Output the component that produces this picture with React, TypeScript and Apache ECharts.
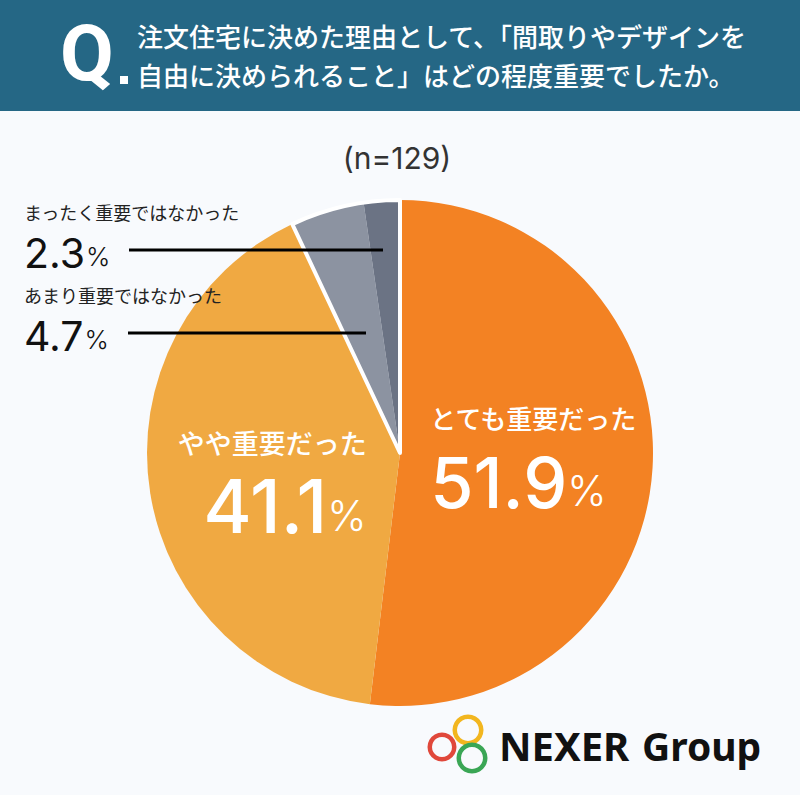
import React, { useEffect, useRef } from "react";
import * as echarts from "echarts";

const categories = ["とても重要だった", "やや重要だった", "あまり重要ではなかった", "まったく重要ではなかった"];
const values = [51.9, 41.1, 4.7, 2.3];
const colors = ["#F38223", "#F0A942", "#8C93A1", "#6B7384"];
const sampleSize = 129;
const titleLines = [
  "注文住宅に決めた理由として、「間取りやデザインを",
  "自由に決められること」はどの程度重要でしたか。",
];

const JP = '"Noto Sans CJK JP", "Noto Sans", sans-serif';
const NUM = 'Inter, "Noto Sans", sans-serif';

export default function App() {
  const ref = useRef<HTMLDivElement>(null);

  useEffect(() => {
    if (!ref.current) return;
    const chart = echarts.init(ref.current, undefined, { renderer: "svg" });

    const greySum = values[2] + values[3];
    const warmSum = values[0] + values[1];

    // label placement per slice (positions only)
    const layouts: any[] = [
      { dx: 5, dy: -2 },
      { dx: 0, dy: 10 },
      { x: 24, y: 280, align: "left", verticalAlign: "top" },
      { x: 24, y: 197, align: "left", verticalAlign: "top" },
    ];

    const data = categories.map((name, i) => ({
      name,
      value: values[i],
      itemStyle: { color: colors[i] },
      label: { position: i < 2 ? "inside" : "outside" },
      labelLine: { show: false },
    }));

    chart.setOption({
      animation: false,
      backgroundColor: "#F8FAFD",
      graphic: [
        { type: "rect", shape: { x: 0, y: 0, width: 800, height: 111 }, style: { fill: "#256785" }, z: 10 },
        {
          type: "text", x: 60, y: 53, z: 11,
          style: { text: "Q", fill: "#fff", font: 'bold 78px Roboto, "Noto Sans", sans-serif', verticalAlign: "middle", textAlign: "left" },
        },
        { type: "rect", shape: { x: 120, y: 76, width: 8, height: 8 }, style: { fill: "#fff" }, z: 11 },
        {
          type: "text", x: 137, y: 35, z: 11,
          style: { text: titleLines[0], fill: "#fff", font: `500 26px ${JP}`, verticalAlign: "middle", textAlign: "left" },
        },
        {
          type: "text", x: 137, y: 74, z: 11,
          style: { text: titleLines[1], fill: "#fff", font: `500 26px ${JP}`, verticalAlign: "middle", textAlign: "left" },
        },
        {
          type: "text", x: 397, y: 158, z: 11,
          style: { text: `(n=${sampleSize})`, fill: "#333", font: `400 30px ${NUM}`, verticalAlign: "middle", textAlign: "center" },
        },
        // leader lines for the small slices
        { type: "line", shape: { x1: 129, y1: 250, x2: 383, y2: 250 }, style: { stroke: "#000", lineWidth: 3 }, z: 20 },
        { type: "line", shape: { x1: 128, y1: 333, x2: 366, y2: 333 }, style: { stroke: "#000", lineWidth: 3 }, z: 20 },
        // logo
        { type: "ring", shape: { cx: 442, cy: 747, r: 14.5, r0: 10 }, style: { fill: "#E0483B" }, z: 11 },
        { type: "ring", shape: { cx: 468, cy: 730, r: 15.5, r0: 11 }, style: { fill: "#F2B61F" }, z: 11 },
        { type: "ring", shape: { cx: 472, cy: 758, r: 15.5, r0: 11 }, style: { fill: "#3AA655" }, z: 11 },
        {
          type: "text", x: 499, y: 745, z: 11,
          style: { text: "NEXER", fill: "#111", font: 'bold 40px "Noto Sans", sans-serif', verticalAlign: "middle", textAlign: "left" },
        },
        {
          type: "text", x: 642, y: 745, z: 11,
          style: { text: "Group", fill: "#111", font: 'bold 39px "Noto Sans", sans-serif', verticalAlign: "middle", textAlign: "left" },
        },
      ],
      series: [
        {
          type: "pie",
          center: [400, 453],
          radius: [0, 253],
          startAngle: 90,
          clockwise: true,
          silent: true,
          avoidLabelOverlap: false,
          data,
          label: {
            show: true,
            formatter: (p: any) => {
              const v = Number(p.value).toFixed(1);
              if (p.dataIndex === 0) return `{nameL|${p.name}}\n{numL|${v}}{pctL|%}`;
              if (p.dataIndex === 1) return `{nameR|${p.name}}\n{numR|${v}}{pctR|%}`;
              return `{nameD|${p.name}}\n{numD|${v}}{pctD|%}`;
            },
            rich: {
              nameL: { color: "#fff", fontFamily: JP, fontSize: 26, fontWeight: 500, lineHeight: 36, align: "left" },
              numL: { color: "#fff", fontFamily: NUM, fontSize: 70, fontWeight: 500, lineHeight: 82, align: "left", verticalAlign: "bottom" },
              pctL: { color: "#fff", fontFamily: NUM, fontSize: 42, fontWeight: 300, lineHeight: 82, align: "left", verticalAlign: "bottom", padding: [0, 0, 6, 0] },
              nameR: { color: "#fff", fontFamily: JP, fontSize: 27, fontWeight: 500, lineHeight: 36, align: "right" },
              numR: { color: "#fff", fontFamily: NUM, fontSize: 74, fontWeight: 500, lineHeight: 82, align: "right", verticalAlign: "bottom" },
              pctR: { color: "#fff", fontFamily: NUM, fontSize: 42, fontWeight: 300, lineHeight: 82, align: "right", verticalAlign: "bottom", padding: [0, 0, 6, 0] },
              nameD: { color: "#222", fontFamily: JP, fontSize: 18, fontWeight: 400, lineHeight: 30, align: "left" },
              numD: { color: "#111", fontFamily: NUM, fontSize: 41, fontWeight: 400, lineHeight: 46, align: "left", verticalAlign: "bottom" },
              pctD: { color: "#111", fontFamily: NUM, fontSize: 26, fontWeight: 300, lineHeight: 46, align: "left", verticalAlign: "bottom", padding: [0, 0, 4, 1] },
            },
          },
          labelLine: { show: false },
          labelLayout: (p: any) => layouts[p.dataIndex],
        },
        {
          type: "pie",
          center: [400, 453],
          radius: [0, 253],
          startAngle: 90,
          clockwise: true,
          silent: true,
          label: { show: false },
          labelLine: { show: false },
          z: 3,
          data: [
            { value: warmSum, itemStyle: { color: "rgba(0,0,0,0)", borderWidth: 0 } },
            { value: greySum, itemStyle: { color: "rgba(0,0,0,0)", borderColor: "#fff", borderWidth: 4 } },
          ],
        },
      ],
    });

    return () => chart.dispose();
  }, []);

  return (
    <div
      ref={ref}
      style={{ position: "absolute", left: 0, top: 0, width: 800, height: 795 }}
    />
  );
}
